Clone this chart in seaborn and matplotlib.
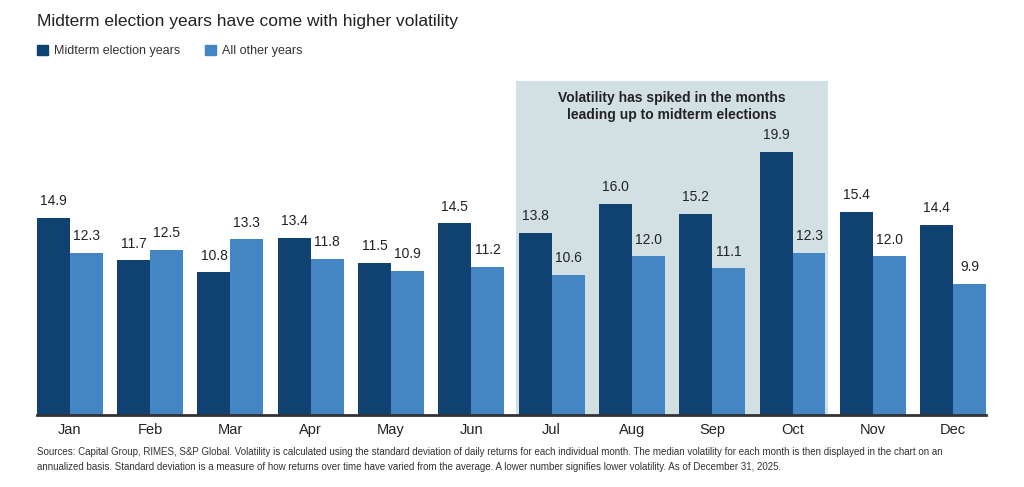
import pandas as pd
import matplotlib.pyplot as plt
import seaborn as sns

months = ["Jan", "Feb", "Mar", "Apr", "May", "Jun",
          "Jul", "Aug", "Sep", "Oct", "Nov", "Dec"]
midterm = [14.9, 11.7, 10.8, 13.4, 11.5, 14.5, 13.8, 16.0, 15.2, 19.9, 15.4, 14.4]
other = [12.3, 12.5, 13.3, 11.8, 10.9, 11.2, 10.6, 12.0, 11.1, 12.3, 12.0, 9.9]
series = ["Midterm election years", "All other years"]
colors = ["#0f4270", "#4386c3"]

df = pd.DataFrame({
    "month": months * 2,
    "vol": midterm + other,
    "group": [series[0]] * 12 + [series[1]] * 12,
})

sns.set_style("white")
plt.rcParams["font.family"] = ["Liberation Sans", "DejaVu Sans"]

fig = plt.figure(figsize=(10.24, 4.87), dpi=100)
ax = fig.add_axes([0.036, 0.148, 0.927, 0.686])

# shaded box behind Jul-Oct
ax.axvspan(5.56, 9.44, color="#d2e0e4", zorder=0, lw=0)

sns.barplot(data=df, x="month", y="vol", hue="group", palette=colors,
            width=0.82, saturation=1, linewidth=0, ax=ax, zorder=2,
            legend=False)

for cont in ax.containers:
    ax.bar_label(cont, fmt="%.1f", padding=7, fontsize=10, color="#222222")

ax.set_xlim(-0.41, 11.41)
ax.set_ylim(0, 25.3)
ax.set_xlabel("")
ax.set_ylabel("")
ax.set_yticks([])
ax.tick_params(axis="x", length=0, labelsize=10.5, pad=6, colors="#222222")
for s in ["top", "right", "left"]:
    ax.spines[s].set_visible(False)
ax.spines["bottom"].set_color("#333333")
ax.spines["bottom"].set_linewidth(2)
ax.patch.set_alpha(0)

ax.text(7.5, 24.5, "Volatility has spiked in the months\nleading up to midterm elections",
        ha="center", va="top", fontsize=10, fontweight="bold", color="#222222",
        linespacing=1.25)

fig.text(0.036, 0.955, "Midterm election years have come with higher volatility",
         fontsize=12.5, color="#222222", va="center")

# legend
fig.patches.append(plt.Rectangle((0.036, 0.887), 0.011, 0.02, color=colors[0],
                                 transform=fig.transFigure, figure=fig))
fig.text(0.053, 0.896, series[0], fontsize=9, color="#333333", va="center")
fig.patches.append(plt.Rectangle((0.2, 0.887), 0.011, 0.02, color=colors[1],
                                 transform=fig.transFigure, figure=fig))
fig.text(0.217, 0.896, series[1], fontsize=9, color="#333333", va="center")

note = ("Sources: Capital Group, RIMES, S&P Global. Volatility is calculated using the standard "
        "deviation of daily returns for each individual month. The median volatility for each month "
        "is then displayed in the chart on an\nannualized basis. Standard deviation is a measure of "
        "how returns over time have varied from the average. A lower number signifies lower "
        "volatility. As of December 31, 2025.")
fig.text(0.036, 0.056, note, fontsize=7.05, color="#333333", va="center", linespacing=1.65)

fig.savefig("out.png", dpi=100)
